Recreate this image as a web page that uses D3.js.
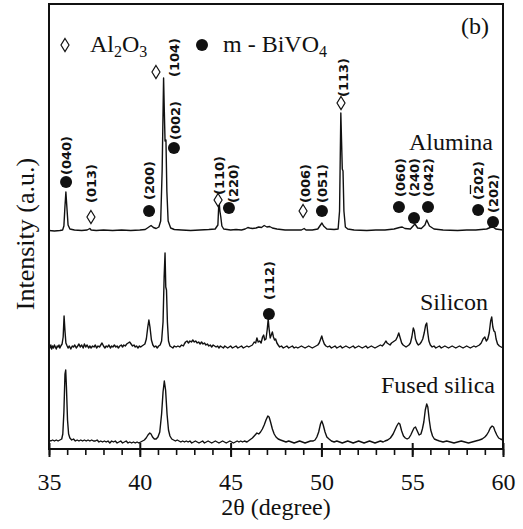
<!DOCTYPE html>
<html>
<head>
<meta charset="utf-8">
<script src="https://cdn.jsdelivr.net/npm/d3@7"></script>
<style>
  body { margin: 0; background: #fff; }
  svg { display: block; }
  text { font-family: "Liberation Serif", "Times New Roman", serif; fill: #111; }
  .hkl { font-family: "DejaVu Sans", sans-serif; font-weight: bold; font-size: 13px; }
</style>
</head>
<body>
<script>

// x axis (2 theta, degrees)
var xTicks = [35, 40, 45, 50, 55, 60];
var xMinor = d3.range(35, 61, 1);

// series names and baseline offsets (a.u.)
var seriesNames = ["Alumina", "Silicon", "Fused silica"];
var seriesOffsets = [218, 102, 7];

// [2theta, intensity above baseline]
var aluminaPts = [
  [35.00, 0.5], [35.30, 0], [35.60, 0.5], [35.75, 1], [35.82, 5], [35.88, 25], [35.93, 39], [35.98, 25],
  [36.05, 6], [36.15, 2], [36.40, 1], [36.80, 0.5], [37.10, 1], [37.25, 2.5], [37.32, 1], [37.60, 0.5],
  [38.00, 1], [38.50, 0.5], [39.00, 1], [39.50, 0.5], [40.00, 1], [40.30, 1.5], [40.50, 4], [40.62, 5.5],
  [40.75, 3.5], [40.90, 2.5], [41.05, 4], [41.15, 10], [41.23, 60], [41.31, 153], [41.35, 120], [41.39, 90],
  [41.44, 91], [41.49, 40], [41.56, 10], [41.70, 3], [41.90, 1.5], [42.30, 1], [42.80, 0.5], [43.30, 1],
  [43.80, 1.5], [44.15, 2], [44.30, 6], [44.36, 31], [44.41, 20], [44.46, 14], [44.52, 5], [44.62, 2],
  [45.00, 1], [45.30, 1.5], [45.60, 1], [45.80, 2], [45.95, 3.5], [46.05, 3], [46.20, 2.5], [46.40, 3],
  [46.55, 4], [46.70, 3.5], [46.85, 5.5], [47.00, 4], [47.15, 4.5], [47.30, 3], [47.55, 2], [48.00, 1],
  [48.50, 1], [48.90, 1], [49.05, 2.5], [49.15, 1], [49.50, 1], [49.80, 2], [49.95, 6], [50.03, 8],
  [50.12, 5], [50.30, 2], [50.70, 1.5], [50.92, 2], [51.00, 20], [51.07, 118], [51.11, 90], [51.15, 62],
  [51.19, 60], [51.24, 20], [51.32, 4], [51.45, 2], [51.80, 1], [52.50, 0.5], [53.00, 1], [53.50, 1],
  [54.00, 2], [54.30, 3.5], [54.45, 4], [54.60, 2.5], [54.90, 2], [55.05, 5], [55.15, 7], [55.30, 3],
  [55.50, 2.5], [55.70, 6], [55.80, 11], [55.95, 5], [56.20, 2], [56.70, 1], [57.50, 0.5], [58.00, 1],
  [58.50, 1], [58.80, 1.5], [59.10, 2], [59.30, 3.5], [59.45, 4], [59.60, 2], [60.00, 1]
];

var siliconPts = [
  [35.00, 1], [35.05, -1], [35.10, 2], [35.15, -2], [35.20, 1], [35.25, -1], [35.30, 2], [35.35, 0],
  [35.40, -2], [35.45, 1], [35.50, 0], [35.55, 2], [35.60, -1], [35.65, 1], [35.72, 3], [35.78, 10],
  [35.83, 31], [35.88, 16], [35.93, 4], [36.00, 1], [36.05, -1], [36.12, 1], [36.20, -2], [36.28, 1],
  [36.35, 0], [36.42, 2], [36.50, -1], [36.58, 1], [36.65, 3], [36.72, 0], [36.80, 2], [36.88, -1],
  [36.95, 3], [37.02, 0], [37.10, 2], [37.18, -1], [37.25, 1], [37.32, -1], [37.40, 1], [37.48, 0],
  [37.55, 2], [37.62, -1], [37.70, 1], [37.78, 0], [37.85, 2], [37.92, 4], [38.00, 1], [38.08, -1],
  [38.15, 1], [38.22, 0], [38.30, 2], [38.38, -1], [38.45, 1], [38.52, 0], [38.60, 2], [38.68, 0],
  [38.75, 1], [38.82, -1], [38.90, 1], [38.98, 2], [39.05, 0], [39.12, 2], [39.20, 1], [39.28, 3],
  [39.36, 4], [39.44, 5], [39.52, 3], [39.60, 1], [39.68, 2], [39.75, 0], [39.82, 1], [39.90, -1],
  [39.98, 1], [40.05, 0], [40.12, 1], [40.20, 2], [40.28, 3], [40.36, 8], [40.44, 20], [40.50, 27],
  [40.56, 20], [40.64, 7], [40.72, 2], [40.80, 0], [40.88, 1], [40.96, -1], [41.04, 1], [41.12, 2],
  [41.20, 6], [41.28, 25], [41.34, 70], [41.39, 94], [41.43, 60], [41.47, 57], [41.52, 25], [41.58, 6],
  [41.66, 1], [41.74, 0], [41.82, -1], [41.90, 1], [42.00, 0], [42.10, 1], [42.20, 0], [42.30, 2],
  [42.40, 1], [42.45, 3], [42.52, 5], [42.60, 6], [42.68, 4], [42.76, 6], [42.84, 5], [42.92, 7],
  [43.00, 5], [43.08, 6], [43.16, 4], [43.24, 5], [43.32, 3], [43.40, 5], [43.48, 3], [43.56, 4],
  [43.64, 2], [43.72, 3], [43.80, 1], [43.88, 2], [43.96, 0], [44.04, 2], [44.12, 1], [44.20, 0],
  [44.28, 1], [44.36, -1], [44.44, 1], [44.52, 0], [44.60, -1], [44.68, 1], [44.76, 0], [44.84, -1],
  [44.92, 0], [45.00, 1], [45.10, -1], [45.20, 0], [45.30, 1], [45.40, -1], [45.50, 0], [45.60, 1],
  [45.70, -1], [45.80, 0], [45.90, 1], [46.00, 0], [46.10, 1], [46.20, 2], [46.30, 5], [46.38, 4],
  [46.45, 9], [46.52, 5], [46.60, 6], [46.68, 4], [46.76, 10], [46.82, 12], [46.88, 7], [46.95, 8],
  [47.02, 18], [47.07, 28], [47.12, 18], [47.18, 9], [47.24, 12], [47.30, 15], [47.36, 10], [47.42, 7],
  [47.48, 8], [47.55, 4], [47.62, 2], [47.70, 0], [47.80, 1], [47.90, -1], [48.00, 0], [48.10, 1],
  [48.20, -1], [48.30, 0], [48.40, 1], [48.50, -1], [48.60, 0], [48.70, -1], [48.80, 0], [48.90, 1],
  [49.00, 0], [49.10, -1], [49.20, 0], [49.30, 1], [49.40, 0], [49.50, -1], [49.60, 0], [49.70, 1],
  [49.80, 2], [49.88, 4], [49.96, 8], [50.02, 11], [50.08, 7], [50.16, 3], [50.25, 1], [50.35, 0],
  [50.45, 1], [50.55, -1], [50.65, 0], [50.75, 1], [50.85, -1], [50.95, 0], [51.05, 1], [51.15, -1],
  [51.25, 0], [51.35, 1], [51.45, 0], [51.55, -1], [51.65, 0], [51.75, 1], [51.85, -1], [51.95, 0],
  [52.05, 1], [52.15, 0], [52.25, -1], [52.35, 0], [52.45, 1], [52.55, -1], [52.65, 0], [52.75, 1],
  [52.85, 0], [52.95, -1], [53.05, 0], [53.15, 1], [53.25, 2], [53.35, 1], [53.45, 3], [53.55, 6],
  [53.62, 4], [53.70, 3], [53.78, 2], [53.86, 4], [53.94, 5], [54.02, 6], [54.10, 7], [54.18, 10],
  [54.26, 14], [54.34, 9], [54.42, 4], [54.50, 2], [54.58, 1], [54.66, 0], [54.74, 1], [54.82, 2],
  [54.90, 4], [54.98, 10], [55.06, 19], [55.12, 16], [55.18, 8], [55.26, 4], [55.34, 2], [55.42, 3],
  [55.50, 5], [55.58, 8], [55.66, 14], [55.74, 22], [55.80, 24], [55.86, 14], [55.92, 6], [56.00, 2],
  [56.10, 0], [56.20, 1], [56.30, -1], [56.40, 0], [56.50, 1], [56.60, -1], [56.70, 0], [56.80, 1],
  [56.90, 0], [57.00, -1], [57.10, 0], [57.20, 1], [57.30, 0], [57.40, -1], [57.50, 0], [57.60, 1],
  [57.70, 0], [57.80, -1], [57.90, 0], [58.00, 1], [58.10, 0], [58.20, -1], [58.30, 0], [58.40, 1],
  [58.50, 0], [58.60, 1], [58.70, 2], [58.80, 4], [58.90, 8], [59.00, 10], [59.08, 6], [59.16, 8],
  [59.24, 14], [59.32, 26], [59.38, 30], [59.44, 20], [59.50, 16], [59.56, 15], [59.62, 8], [59.70, 3],
  [59.80, 1], [59.90, 0], [60.00, -1]
];

var fusedPts = [
  [35.00, 2], [35.10, 1], [35.20, 2], [35.30, 1], [35.40, 2], [35.50, 1], [35.60, 2], [35.70, 3],
  [35.76, 8], [35.82, 30], [35.88, 68], [35.92, 72], [35.96, 55], [36.02, 22], [36.08, 8], [36.15, 4],
  [36.25, 2], [36.35, 3], [36.45, 1], [36.55, 2], [36.65, 1], [36.75, 2], [36.85, 1], [36.95, 2],
  [37.05, 1], [37.15, 2], [37.25, 1], [37.35, 2], [37.45, 1], [37.55, 1], [37.65, 2], [37.75, 0],
  [37.85, 1], [37.95, 0], [38.05, 1], [38.15, 0], [38.25, 1], [38.35, -1], [38.45, 1], [38.55, 0],
  [38.65, 1], [38.75, -1], [38.85, 0], [38.95, 1], [39.05, -1], [39.15, 0], [39.25, 1], [39.35, -1],
  [39.45, 0], [39.55, -1], [39.65, 0], [39.75, -1], [39.85, 0], [39.95, -1], [40.05, 0], [40.15, 1],
  [40.25, 2], [40.35, 4], [40.45, 7], [40.55, 9], [40.62, 8], [40.70, 5], [40.80, 3], [40.90, 3],
  [41.00, 5], [41.10, 10], [41.20, 28], [41.28, 50], [41.35, 61], [41.42, 52], [41.50, 28], [41.58, 12],
  [41.66, 6], [41.76, 3], [41.86, 2], [41.96, 1], [42.06, 2], [42.16, 1], [42.26, 0], [42.36, 1],
  [42.46, 0], [42.56, 1], [42.66, 0], [42.76, 1], [42.86, -1], [42.96, 0], [43.06, 1], [43.16, 0],
  [43.26, -1], [43.36, 0], [43.46, 1], [43.56, -1], [43.66, 0], [43.76, 1], [43.86, 0], [43.96, -1],
  [44.06, 0], [44.16, 1], [44.26, 0], [44.36, -1], [44.46, 0], [44.56, 1], [44.66, 0], [44.76, -1],
  [44.86, 0], [44.96, 1], [45.06, 0], [45.16, -1], [45.26, 0], [45.36, 1], [45.46, 0], [45.56, 1],
  [45.66, 0], [45.76, 1], [45.90, 0], [46.05, 2], [46.20, 4], [46.35, 7], [46.45, 9], [46.55, 8],
  [46.65, 10], [46.75, 13], [46.85, 17], [46.95, 22], [47.05, 26], [47.12, 25], [47.20, 20], [47.30, 13],
  [47.40, 8], [47.50, 5], [47.62, 3], [47.75, 2], [47.90, 1], [48.05, 0], [48.20, 1], [48.35, 0],
  [48.50, -1], [48.65, 0], [48.80, 1], [48.95, 0], [49.10, -1], [49.25, 0], [49.40, 1], [49.55, 1],
  [49.65, 2], [49.75, 5], [49.85, 10], [49.95, 18], [50.02, 21], [50.10, 17], [50.20, 10], [50.30, 5],
  [50.42, 3], [50.55, 1], [50.70, 0], [50.85, 1], [51.00, 0], [51.15, -1], [51.30, 0], [51.45, 1],
  [51.60, 0], [51.75, -1], [51.90, 0], [52.05, 1], [52.20, 0], [52.35, -1], [52.50, 0], [52.65, 1],
  [52.80, 0], [52.95, -1], [53.10, 0], [53.25, 1], [53.40, 0], [53.50, 1], [53.65, 2], [53.80, 4],
  [53.95, 8], [54.05, 12], [54.15, 16], [54.25, 19], [54.32, 18], [54.42, 11], [54.52, 6], [54.62, 4],
  [54.72, 3], [54.82, 4], [54.92, 7], [55.02, 11], [55.10, 14], [55.18, 15], [55.28, 11], [55.38, 7],
  [55.48, 8], [55.56, 13], [55.64, 20], [55.72, 32], [55.80, 38], [55.86, 35], [55.94, 22], [56.02, 12],
  [56.12, 6], [56.22, 3], [56.35, 2], [56.50, 1], [56.70, 0], [56.90, 1], [57.10, 0], [57.30, -1],
  [57.50, 0], [57.70, 1], [57.90, 0], [58.10, -1], [58.30, 0], [58.50, 1], [58.70, 2], [58.85, 3],
  [59.00, 5], [59.10, 7], [59.20, 10], [59.30, 14], [59.40, 16], [59.48, 15], [59.56, 11], [59.66, 7],
  [59.76, 4], [59.86, 3], [60.00, 2]
];

// peak markers: [label, phase, 2theta, intensity, label 2theta, label intensity, barred digit]
var peakMarks = [
  ["(040)", "bivo4", 35.94, 267, 35.94, 274, -1],
  ["(013)", "al2o3", 37.31, 232, 37.31, 246, -1],
  ["(200)", "bivo4", 40.51, 238, 40.51, 249, -1],
  ["(104)", "al2o3", 40.89, 377, 41.88, 372, -1],
  ["(002)", "bivo4", 41.88, 301, 41.94, 309, -1],
  ["(110)", "al2o3", 44.31, 249, 44.36, 254, -1],
  ["(220)", "bivo4", 44.91, 241, 45.13, 246, -1],
  ["(006)", "al2o3", 48.99, 238, 49.10, 246, -1],
  ["(051)", "bivo4", 50.03, 238, 50.03, 246, -1],
  ["(113)", "al2o3", 51.08, 346, 51.19, 352, -1],
  ["(060)", "bivo4", 54.27, 242, 54.33, 252, -1],
  ["(240)", "bivo4", 55.10, 231, 55.10, 252, -1],
  ["(042)", "bivo4", 55.87, 242, 55.87, 252, -1],
  ["(202)", "bivo4", 58.63, 239, 58.63, 249, 1],
  ["(202)", "bivo4", 59.45, 227, 59.45, 236, -1],
  ["(112)", "bivo4", 47.11, 135, 47.11, 149, -1]
];

var width = 523, height = 529;
var margin = {top: 4, right: 20, bottom: 80, left: 49};

var x = d3.scaleLinear().domain([35, 60]).range([margin.left, width - margin.right]);
var y = d3.scaleLinear().domain([0, 445]).range([height - margin.bottom, margin.top]);

var svg = d3.select("body").append("svg")
  .attr("width", width)
  .attr("height", height);

var diamond = "M0,-6.5L4,0L0,6.5L-4,0Z";

function drawSymbol(g, phase) {
  if (phase == "al2o3") {
    g.append("path").attr("d", diamond)
      .attr("fill", "#fff").attr("stroke", "#111").attr("stroke-width", 1.2);
  } else {
    g.append("circle").attr("r", 6).attr("fill", "#111");
  }
}

// curves
var line = d3.line()
  .x(d => x(d[0]))
  .y(d => y(d[1]));

[aluminaPts, siliconPts, fusedPts].forEach(function (pts, i) {
  svg.append("path")
    .datum(pts.map(p => [p[0], p[1] + seriesOffsets[i]]))
    .attr("d", line)
    .attr("fill", "none")
    .attr("stroke", "#111")
    .attr("stroke-width", 1.4)
    .attr("stroke-linejoin", "round");
});

// frame
svg.append("rect")
  .attr("x", x(35)).attr("y", y(445))
  .attr("width", x(60) - x(35)).attr("height", y(0) - y(445))
  .attr("fill", "none").attr("stroke", "#111").attr("stroke-width", 2);

// x axis: minor ticks, major ticks crossing the axis line
var axisY = y(0);
svg.append("g")
  .attr("transform", "translate(0," + axisY + ")")
  .call(d3.axisBottom(x).tickValues(xMinor).tickSize(6).tickFormat(""))
  .call(g => g.select(".domain").remove())
  .selectAll("line").attr("stroke", "#111").attr("stroke-width", 1.6);

svg.append("g")
  .attr("transform", "translate(0," + axisY + ")")
  .call(d3.axisTop(x).tickValues(xTicks).tickSize(6).tickFormat(""))
  .call(g => g.select(".domain").remove())
  .selectAll("line").attr("stroke", "#111").attr("stroke-width", 2);

var xAxis = svg.append("g")
  .attr("transform", "translate(0," + axisY + ")")
  .call(d3.axisBottom(x).tickValues(xTicks).tickSize(8).tickFormat(d3.format("d")));
xAxis.select(".domain").remove();
xAxis.selectAll("line").attr("stroke", "#111").attr("stroke-width", 2);
xAxis.selectAll("text")
  .attr("y", 41).attr("dy", 0)
  .style("font-family", "'Liberation Serif', serif")
  .style("font-size", "24px")
  .attr("fill", "#111");

// axis titles
svg.append("text")
  .attr("x", (x(35) + x(60)) / 2)
  .attr("y", 515)
  .style("text-anchor", "middle")
  .style("font-size", "24px")
  .text("2\u03b8 (degree)");

svg.append("text")
  .attr("transform", "translate(34," + 234 + ") rotate(-90)")
  .style("text-anchor", "middle")
  .style("font-size", "26px")
  .text("Intensity (a.u.)");

// series labels
var labelPos = [[493, 150], [488, 310], [495, 393]];
seriesNames.forEach(function (name, i) {
  svg.append("text")
    .attr("x", labelPos[i][0]).attr("y", labelPos[i][1])
    .style("text-anchor", "end")
    .style("font-size", "24px")
    .text(name);
});

// panel tag
svg.append("text")
  .attr("x", 461).attr("y", 34)
  .style("font-size", "24px")
  .text("(b)");

// legend
var leg1 = svg.append("g").attr("transform", "translate(65,45)");
drawSymbol(leg1, "al2o3");
var t1 = svg.append("text").attr("x", 90).attr("y", 52).style("font-size", "24px");
t1.append("tspan").text("Al");
t1.append("tspan").attr("dy", 5).style("font-size", "16px").text("2");
t1.append("tspan").attr("dy", -5).text("O");
t1.append("tspan").attr("dy", 5).style("font-size", "16px").text("3");

var leg2 = svg.append("g").attr("transform", "translate(202,45)");
drawSymbol(leg2, "bivo4");
var t2 = svg.append("text").attr("x", 223).attr("y", 52).style("font-size", "24px");
t2.append("tspan").text("m - BiVO");
t2.append("tspan").attr("dy", 5).style("font-size", "16px").text("4");

// peak markers and hkl labels
peakMarks.forEach(function (m) {
  var g = svg.append("g")
    .attr("transform", "translate(" + x(m[2]) + "," + y(m[3]) + ")");
  drawSymbol(g, m[1]);
  var t = svg.append("text")
    .attr("class", "hkl")
    .attr("transform", "translate(" + x(m[4]) + "," + y(m[5]) + ") rotate(-90)")
    .attr("dy", "0.36em")
    .style("text-anchor", "start");
  m[0].split("").forEach(function (ch, k) {
    var s = t.append("tspan").text(ch);
    if (k == m[6]) s.style("text-decoration", "overline");
  });
});

</script>
</body>
</html>
